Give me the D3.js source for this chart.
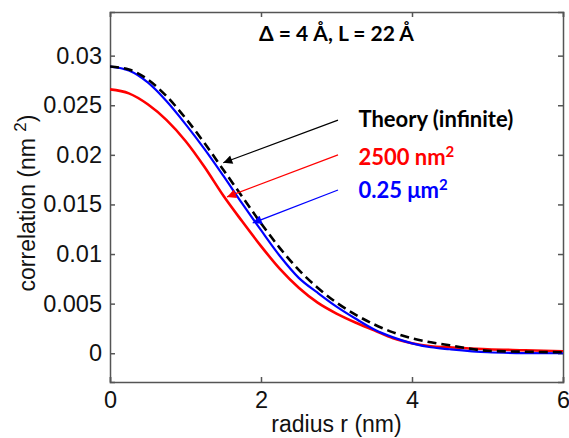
<!DOCTYPE html>
<html lang="en">
<head>
<meta charset="UTF-8"/>
<title>Correlation vs radius</title>
<script src="https://d3js.org/d3.v7.min.js"></script>
<style>
  body { margin: 0; background: #fff; }
  svg text { font-family: "Liberation Sans", Arial, sans-serif; }
</style>
</head>
<body>
<script>

    var radius = [0, 0.25, 0.5, 0.75, 1, 1.25, 1.5, 1.75, 2, 2.25, 2.5, 2.75, 3, 3.25, 3.5, 3.75, 4, 4.25, 4.5, 5, 5.5, 6];

    // correlation (nm^2) for each series
    var theory = [0.0289, 0.0286, 0.0276, 0.0259, 0.0237, 0.0212, 0.0185, 0.0158, 0.0131, 0.0106, 0.0084, 0.0066, 0.0051, 0.0039, 0.0029, 0.0021, 0.0015, 0.0011, 0.0008, 0.00025, 0.00015, 0.0001];
    var area2500 = [0.0266, 0.0262, 0.0251, 0.0235, 0.0214, 0.0188, 0.0159, 0.0133, 0.0108, 0.0085, 0.0066, 0.0051, 0.0040, 0.0031, 0.0023, 0.0015, 0.0010, 0.0007, 0.0006, 0.0004, 0.0003, 0.0002];
    var area025 = [0.0289, 0.0285, 0.0273, 0.0254, 0.0231, 0.0206, 0.0179, 0.0151, 0.0124, 0.0098, 0.0076, 0.0061, 0.0047, 0.0035, 0.0024, 0.0016, 0.0010, 0.0006, 0.0004, 0.0001, 0.00002, 0.0];

    var xTicks = [0, 2, 4, 6];
    var yTicks = [0, 0.005, 0.01, 0.015, 0.02, 0.025, 0.03];

    // legend labels and arrow ends (in data units: [r, correlation])
    var legendNames = ["Theory (infinite)", "2500 nm", "0.25 \u03bcm"];
    var legendColors = ["#000", "#ff0000", "#0000ff"];
    var arrowFrom = [[3.02, 0.0235], [3.02, 0.0200], [3.02, 0.01646]];
    var arrowTo = [[1.50, 0.0192], [1.55, 0.01576], [1.89, 0.01313]];

    var w = 569;
    var h = 438;
    var margin = {top: 12, right: 6, bottom: 56, left: 110};

    var svg = d3.select("body")
                .append("svg")
                .attr("width", w)
                .attr("height", h);

    var xScale = d3.scaleLinear()
        .domain([0, 6])
        .range([margin.left, w - margin.right]);

    var yScale = d3.scaleLinear()
        .domain([-0.0029, 0.0344])
        .range([h - margin.bottom, margin.top]);

    var axisColor = "#555";

    // clip so curves stay inside the box
    svg.append("clipPath").attr("id", "plotclip")
        .append("rect")
        .attr("x", margin.left)
        .attr("y", margin.top)
        .attr("width", w - margin.left - margin.right)
        .attr("height", h - margin.top - margin.bottom);

    // ticks on all four sides (MATLAB style, pointing in)
    var bottomAxis = d3.axisBottom(xScale).tickValues(xTicks).tickSize(-5).tickPadding(9).tickFormat(d3.format("d"));
    var topAxis = d3.axisTop(xScale).tickValues(xTicks).tickSize(-5).tickFormat("");
    var leftAxis = d3.axisLeft(yScale).tickValues(yTicks).tickSize(-5).tickPadding(8).tickFormat(function(d) { return d === 0 ? "0" : d3.format("~g")(d); });
    var rightAxis = d3.axisRight(yScale).tickValues(yTicks).tickSize(-5).tickFormat("");

    function styleAxis(g) {
        g.selectAll("path").attr("stroke", axisColor).attr("stroke-width", 1.5);
        g.selectAll("line").attr("stroke", axisColor).attr("stroke-width", 1.5);
        g.selectAll("text").attr("fill", "#111").attr("font-size", "23.5px").attr("font-family", "Liberation Sans, Arial, sans-serif");
    }

    svg.append("g").attr("transform", "translate(0," + (h - margin.bottom) + ")").call(bottomAxis).call(styleAxis);
    svg.append("g").attr("transform", "translate(0," + margin.top + ")").call(topAxis).call(styleAxis);
    svg.append("g").attr("transform", "translate(" + margin.left + ",0)").call(leftAxis).call(styleAxis);
    svg.append("g").attr("transform", "translate(" + (w - margin.right) + ",0)").call(rightAxis).call(styleAxis);

    // axis titles
    svg.append("text")
        .attr("x", (margin.left + w - margin.right) / 2)
        .attr("y", 432)
        .attr("text-anchor", "middle")
        .attr("font-size", "23px")
        .attr("fill", "#111")
        .text("radius r (nm)");

    var yl = svg.append("text")
        .attr("transform", "translate(35," + 203 + ") rotate(-90)")
        .attr("text-anchor", "middle")
        .attr("font-size", "23px")
        .attr("fill", "#111");
    yl.append("tspan").text("correlation (nm ");
    yl.append("tspan").attr("dy", -9).attr("font-size", "17px").text("2");
    yl.append("tspan").attr("dy", 9).text(")");

    // curves
    var line = d3.line()
        .x(function(d) { return xScale(d[0]); })
        .y(function(d) { return yScale(d[1]); })
        .curve(d3.curveMonotoneX);

    var plot = svg.append("g").attr("clip-path", "url(#plotclip)");

    plot.append("path")
        .datum(d3.zip(radius, area2500))
        .attr("d", line)
        .attr("fill", "none")
        .attr("stroke", "#ff0000")
        .attr("stroke-width", 2.6);

    plot.append("path")
        .datum(d3.zip(radius, area025))
        .attr("d", line)
        .attr("fill", "none")
        .attr("stroke", "#0000ff")
        .attr("stroke-width", 2.2);

    plot.append("path")
        .datum(d3.zip(radius, theory))
        .attr("d", line)
        .attr("fill", "none")
        .attr("stroke", "#000")
        .attr("stroke-width", 2.6)
        .attr("stroke-dasharray", "9,5");

    // arrow heads
    var defs = svg.append("defs");
    legendColors.forEach(function(c, i) {
        defs.append("marker")
            .attr("id", "arrow" + i)
            .attr("viewBox", "0 0 10 10")
            .attr("refX", 10)
            .attr("refY", 5)
            .attr("markerWidth", 12)
            .attr("markerHeight", 9)
            .attr("markerUnits", "userSpaceOnUse")
            .attr("orient", "auto")
            .append("path")
            .attr("d", "M0,0 L10,5 L0,10 z")
            .attr("fill", c);
    });

    svg.selectAll(".arrow")
        .data(d3.range(3))
        .enter()
        .append("line")
        .attr("class", "arrow")
        .attr("x1", function(i) { return xScale(arrowFrom[i][0]); })
        .attr("y1", function(i) { return yScale(arrowFrom[i][1]); })
        .attr("x2", function(i) { return xScale(arrowTo[i][0]); })
        .attr("y2", function(i) { return yScale(arrowTo[i][1]); })
        .attr("stroke", function(i) { return legendColors[i]; })
        .attr("stroke-width", 1.2)
        .attr("marker-end", function(i) { return "url(#arrow" + i + ")"; });

    // legend labels
    var legendY = [0.0235, 0.0197, 0.0164];
    var labels = svg.selectAll(".lbl")
        .data(d3.range(3))
        .enter()
        .append("text")
        .attr("class", "lbl")
        .attr("x", xScale(3.29))
        .attr("y", function(i) { return yScale(legendY[i]) + 7; })
        .style("font-family", "Lato, 'Open Sans', sans-serif")
        .attr("font-weight", "bold")
        .attr("font-size", "22px")
        .attr("fill", function(i) { return legendColors[i]; })
        .text(function(i) { return legendNames[i]; });

    labels.filter(function(i) { return i > 0; })
        .append("tspan")
        .attr("dy", -8)
        .attr("font-size", "15px")
        .text("2");

    // panel title
    svg.append("text")
        .attr("x", xScale(3))
        .attr("y", 41)
        .attr("text-anchor", "middle")
        .style("font-family", "Lato, 'Open Sans', sans-serif")
        .attr("font-weight", "bold")
        .attr("font-size", "21px")
        .attr("fill", "#000")
        .text("\u0394 = 4 \u00c5, L = 22 \u00c5");

</script>
</body>
</html>
